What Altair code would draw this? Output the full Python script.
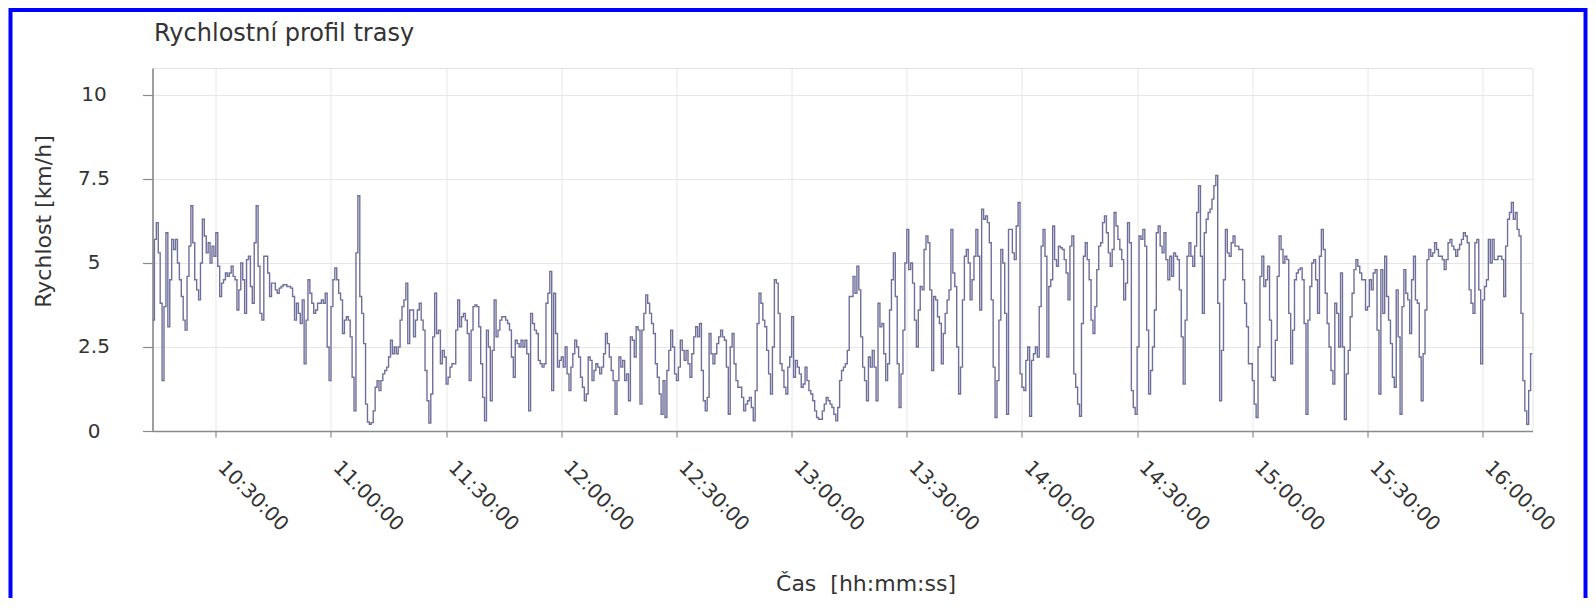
import altair as alt
import pandas as pd

TITLE = "Rychlostní profil trasy"
Y_TITLE = "Rychlost [km/h]"
X_TITLE = "Čas\u00a0 [hh:mm:ss]"
DAY = "2000-01-01"
STEP_MIN = 0.5  # sampling interval of the readings, minutes

# speed readings [km/h], one every 30 s, per segment start time
speed_1013 = [3.3, 5.7, 6.2, 5.3, 3.8, 1.5, 3.7, 5.9, 3.1, 4.5, 5.7, 5.4, 5.7, 5.0, 4.5, 4.0,
              3.3, 3.0, 4.6, 5.5, 6.7, 5.6, 4.5, 4.2, 3.9, 5.0, 6.3, 5.8, 5.3, 5.6, 5.0, 5.5,
              5.2, 5.9, 4.9, 4.0, 4.4, 4.5, 4.7, 4.6, 4.7, 4.9, 4.6, 4.5, 3.6, 4.2, 5.0, 4.5,
              3.5, 5.1, 5.2, 4.3, 3.8, 5.6, 6.7, 4.9, 3.5, 3.3, 5.2, 5.2, 4.7, 4.0, 4.4]
speed_1045 = [4.4, 4.2, 4.1, 4.25, 4.3, 4.35, 4.35, 4.3, 4.3, 4.25, 4.0, 3.3, 3.8, 3.5, 3.2, 3.9,
              2.0, 3.3, 4.5, 4.1, 3.8, 3.5, 3.6, 3.8, 3.8, 3.9, 3.8, 4.1, 2.5, 1.5, 3.7, 4.5,
              4.85, 4.5, 4.1, 3.9, 2.9, 3.3, 3.4, 3.3, 2.8, 1.6, 0.6, 5.3, 7.0, 4.0, 3.5, 2.6,
              0.8, 0.27, 0.2, 0.25, 0.6, 1.3, 1.5, 1.2, 1.5, 1.7, 1.8, 1.9, 2.2, 2.7, 2.3, 2.5]
speed_1117 = [2.3, 2.5, 3.3, 3.7, 3.9, 4.4, 2.6, 3.6, 3.6, 2.8, 3.3, 3.6, 3.8, 3.3, 3.0, 1.8,
              0.9, 0.24, 1.1, 2.8, 4.1, 2.9, 3.0, 2.0, 2.4, 2.2, 1.4, 1.6, 1.9, 2.0, 2.0, 3.0,
              3.9, 3.1, 3.4, 3.5, 3.3, 2.9, 1.5, 3.0, 3.7, 3.75, 3.7, 3.1, 2.0, 1.0, 0.3, 3.0,
              2.5, 0.9, 2.4, 3.9, 2.8, 3.0, 3.3, 3.4, 3.4, 3.3, 3.2, 3.0, 2.2, 1.6, 2.7]
speed_1148 = [2.6, 2.5, 2.7, 2.5, 2.7, 2.3, 0.6, 3.5, 3.2, 3.0, 2.9, 2.1, 2.0, 1.9, 2.0, 3.8,
              4.1, 4.75, 1.2, 4.1, 2.9, 1.9, 2.1, 2.2, 1.9, 2.5, 1.7, 1.2, 1.9, 2.3, 2.7, 2.5,
              2.2, 1.6, 1.3, 0.9, 1.1, 2.2, 2.1, 1.5, 1.8, 2.0, 1.9, 1.7, 1.9, 2.3, 2.9, 2.6,
              2.2, 1.8, 1.5, 0.5, 1.5, 2.2, 1.9, 2.1, 1.5, 1.7, 0.9, 2.8, 2.7, 2.2, 3.1, 3.0]
speed_1220 = [0.8, 3.0, 3.5, 4.05, 3.8, 3.5, 3.2, 2.9, 2.0, 1.6, 1.1, 0.5, 1.5, 0.4, 1.8, 2.4,
              3.0, 2.5, 1.7, 1.5, 1.9, 2.7, 2.4, 2.1, 2.4, 2.0, 1.6, 2.3, 2.8, 3.1, 2.8, 3.2,
              1.8, 0.9, 0.6, 1.0, 2.9, 2.3, 2.0, 2.3, 2.6, 2.8, 3.0, 2.8, 2.7, 1.9, 0.5, 2.5,
              2.9, 2.0, 1.5, 1.3, 1.3, 1.0, 0.6, 0.8, 0.9, 1.0, 0.7, 0.3, 1.2, 3.2, 4.1, 3.8]
speed_1252 = [3.3, 3.1, 2.4, 1.7, 1.1, 2.5, 4.5, 4.4, 3.5, 2.0, 1.8, 1.3, 1.1, 1.9, 2.2, 3.4,
              1.6, 2.1, 1.9, 1.7, 1.3, 1.4, 1.9, 1.5, 1.2, 1.1, 0.9, 0.6, 0.4, 0.35, 0.35, 0.6,
              0.8, 1.0, 0.9, 0.8, 0.7, 0.5, 0.3, 0.7, 1.5, 1.8, 1.9, 2.0, 2.4, 4.0, 4.0, 4.6,
              4.1, 4.9, 4.2, 2.8, 1.9, 1.5, 0.9, 2.2, 1.9, 2.4, 1.9, 0.9, 3.8, 3.1, 3.2]
speed_1324 = [2.3, 1.5, 2.0, 3.6, 4.5, 5.3, 4.0, 2.0, 0.7, 1.7, 3.0, 5.0, 6.0, 4.8, 5.0, 4.4,
              3.3, 2.5, 3.6, 4.3, 4.2, 5.4, 5.8, 5.6, 4.2, 1.8, 4.0, 3.9, 3.4, 3.2, 2.0, 2.9,
              3.5, 3.9, 4.2, 6.0, 4.7, 4.3, 2.5, 1.1, 1.9, 3.9, 5.2, 5.4, 5.0, 3.9, 4.5, 5.2,
              6.0, 5.2, 3.6, 6.6, 6.3, 6.4, 6.2, 5.6, 3.9, 1.9, 0.4, 1.5, 3.3, 5.4, 5.0, 3.5]
speed_1356 = [0.5, 6.0, 6.0, 5.3, 5.1, 6.1, 6.8, 1.7, 1.3, 1.2, 2.1, 2.5, 0.44, 2.1, 2.3, 2.5,
              2.2, 3.7, 5.5, 6.0, 5.2, 2.2, 4.3, 4.5, 6.1, 5.1, 4.9, 5.5, 5.45, 5.4, 5.1, 4.7,
              3.9, 5.5, 5.8, 1.7, 1.3, 0.8, 0.44, 3.2, 5.2, 5.6, 5.1, 4.5, 3.3, 2.9, 3.7, 4.8,
              5.5, 5.6, 6.2, 6.4, 5.9, 5.3, 4.9, 5.4, 6.5, 6.1, 5.7, 5.4, 5.1, 3.9, 4.4]
speed_1427 = [6.2, 5.6, 1.2, 0.7, 0.5, 2.5, 5.8, 5.7, 6.0, 5.5, 3.0, 1.1, 1.8, 2.5, 3.6, 5.9,
              6.1, 5.5, 5.3, 5.9, 5.1, 4.5, 5.2, 4.6, 5.3, 5.2, 5.1, 4.2, 2.8, 1.4, 3.3, 5.2,
              5.6, 5.2, 4.9, 5.5, 6.5, 7.3, 5.2, 3.5, 5.9, 6.3, 6.5, 6.6, 6.9, 7.3, 7.6, 3.8,
              0.9, 2.4, 4.5, 6.0, 5.3, 5.2, 5.6, 5.8, 5.5, 5.5, 5.4, 5.4, 4.5, 3.8, 3.1, 2.0]
speed_1459 = [2.0, 1.5, 0.8, 0.4, 2.5, 4.6, 5.2, 4.3, 4.5, 4.9, 3.3, 1.6, 1.5, 2.7, 4.6, 5.8,
              5.4, 5.0, 5.2, 5.1, 3.5, 2.0, 3.0, 4.5, 4.7, 4.8, 4.85, 4.5, 3.2, 0.5, 3.3, 4.3,
              5.0, 5.1, 4.5, 3.5, 5.2, 6.0, 5.4, 4.1, 3.2, 2.5, 1.8, 1.4, 3.8, 3.5, 2.5, 4.7,
              2.5, 0.34, 1.7, 2.4, 3.4, 4.1, 4.8, 5.1, 4.9, 4.7, 4.5, 4.5, 3.6, 3.7, 4.5, 4.2]
speed_1531 = [4.7, 4.8, 3.0, 1.1, 4.8, 3.5, 5.2, 4.0, 3.3, 2.6, 1.6, 1.3, 4.2, 2.8, 0.5, 3.7,
              4.8, 4.1, 3.9, 2.9, 4.5, 5.2, 3.9, 3.8, 2.2, 0.9, 2.3, 3.6, 5.1, 5.4, 5.2, 5.3,
              5.6, 5.4, 5.2, 5.2, 5.1, 4.8, 5.1, 5.6, 5.7, 5.5, 5.4, 5.2, 5.4, 5.55, 5.7, 5.9,
              5.8, 5.6, 4.2, 3.8, 3.5, 5.6, 5.7, 4.2, 2.0, 3.9, 4.3, 4.5, 5.7, 5.0, 5.7, 5.1,
              5.1, 5.2, 5.2, 5.1, 4.0, 5.5, 6.3, 6.5, 6.8, 6.3, 6.5, 6.0, 5.8, 3.5, 1.5, 0.6,
              0.2, 1.2, 2.3, 2.3]

segments = [
    ("10:13:30", speed_1013), ("10:45:00", speed_1045), ("11:17:00", speed_1117),
    ("11:48:30", speed_1148), ("12:20:30", speed_1220), ("12:52:30", speed_1252),
    ("13:24:00", speed_1324), ("13:56:00", speed_1356), ("14:27:30", speed_1427),
    ("14:59:30", speed_1459), ("15:31:30", speed_1531),
]

x_start = "10:13:30"
x_end = "16:13:00"
tick_labels = ["10:30:00", "11:00:00", "11:30:00", "12:00:00", "12:30:00", "13:00:00",
               "13:30:00", "14:00:00", "14:30:00", "15:00:00", "15:30:00", "16:00:00"]
y_ticks = [0, 2.5, 5, 7.5, 10]
y_max = 10.8

rows = []
for start, vals in segments:
    t0 = pd.Timestamp(f"{DAY} {start}")
    for i, v in enumerate(vals):
        t = t0 + pd.Timedelta(minutes=i * STEP_MIN)
        rows.append({"t": t.strftime("%Y-%m-%dT%H:%M:%S"), "v": v})
df = pd.DataFrame(rows)


def dt(hms):
    h, m, s = (int(p) for p in hms.split(":"))
    return alt.DateTime(year=2000, month=1, date=1, hours=h, minutes=m, seconds=s)


FONT = "DejaVu Sans"
W, H = 1380, 363

line = alt.Chart(df).mark_line(
    interpolate="step-after", color="#6f6f9c", strokeWidth=1.4, clip=True
).encode(
    x=alt.X("t:T",
            scale=alt.Scale(domain=[dt(x_start), dt(x_end)], nice=False),
            axis=alt.Axis(values=[dt(s) for s in tick_labels], format="%H:%M:%S",
                          labelAngle=45, labelAlign="left", labelBaseline="middle",
                          labelPadding=27, labelOffset=5, labelOverlap=False,
                          labelFlush=False, tickSize=6,
                          titleX=713, titleY=152, titleAlign="center",
                          titleBaseline="middle"),
            title=X_TITLE),
    y=alt.Y("v:Q",
            scale=alt.Scale(domain=[0, y_max], nice=False, zero=True),
            axis=alt.Axis(values=y_ticks, format=".1~f", labelAlign="center",
                          labelBaseline="middle", labelPadding=49, tickSize=10,
                          titleX=-109, titleY=153, titleAngle=270,
                          titleAlign="center", titleBaseline="middle"),
            title=Y_TITLE),
)

one = pd.DataFrame({"k": [0]})
frame = alt.Chart(one).mark_rect(
    fillOpacity=0, stroke="#0000ff", strokeWidth=4
).encode(
    x=alt.value(-142), x2=alt.value(1433), y=alt.value(-58), y2=alt.value(700)
)

title = alt.Chart(one).mark_text(
    align="left", baseline="alphabetic", font=FONT, fontSize=24, color="#333333"
).encode(
    x=alt.value(1.5), y=alt.value(-27), text=alt.value(TITLE)
)

chart = alt.layer(line, frame, title).properties(
    width=W, height=H,
    padding={"left": 144.5, "top": 60, "right": 55, "bottom": 167},
    autosize=alt.AutoSizeParams(type="none"),
    background="white",
).configure_view(
    stroke="#e2e2e2"
).configure_axis(
    gridColor="#e6e6e6", gridWidth=1,
    domainColor="#8a8a8a", domainWidth=1.6,
    tickColor="#8a8a8a", tickWidth=1.2,
    labelFont=FONT, labelFontSize=20, labelColor="#333333",
    titleFont=FONT, titleFontSize=22, titleColor="#333333", titleFontWeight="normal",
)

chart.save("out.html", embed_options={"renderer": "svg", "actions": False})
